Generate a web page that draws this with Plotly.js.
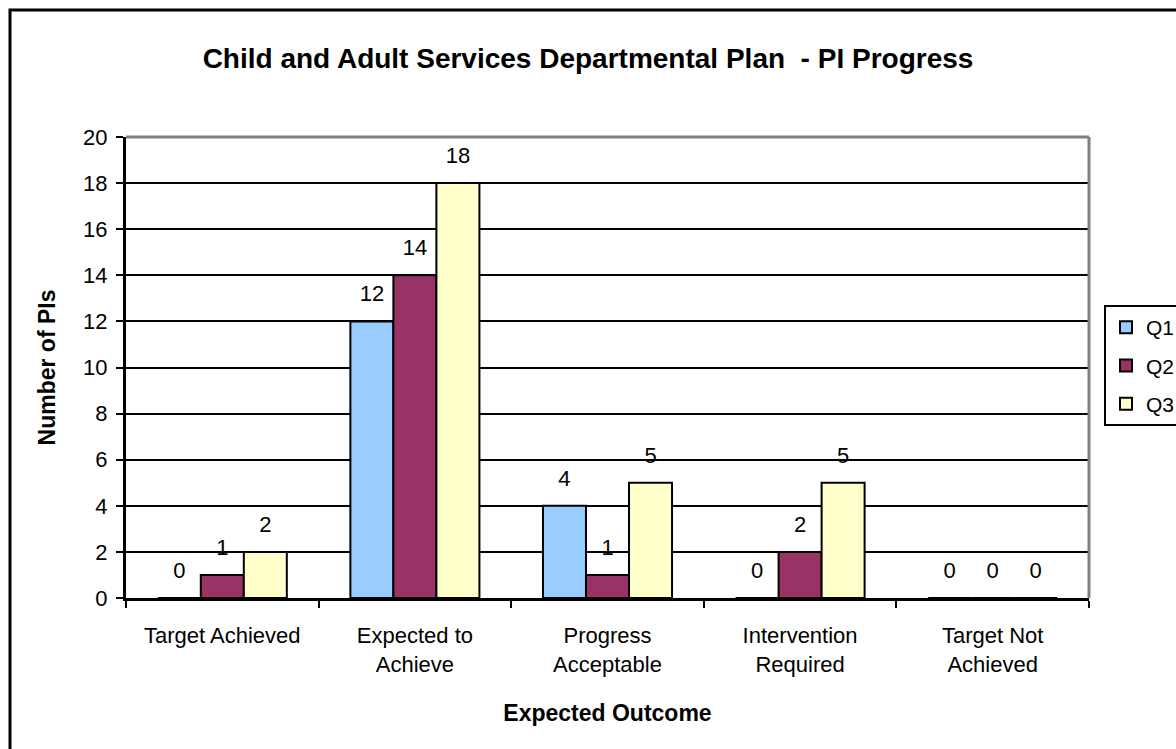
<!DOCTYPE html>
<html>
<head>
<meta charset="utf-8">
<script src="https://cdn.plot.ly/plotly-3.0.1.min.js"></script>
<style>
html,body{margin:0;padding:0;background:#fff;}
#chart{width:1176px;height:749px;}
</style>
</head>
<body>
<div id="chart"></div>
<script>
var categories = ["Target Achieved", "Expected to<br>Achieve", "Progress<br>Acceptable", "Intervention<br>Required", "Target Not<br>Achieved"];
var seriesNames = ["Q1", "Q2", "Q3"];
var q1 = [0, 12, 4, 0, 0];
var q2 = [1, 14, 1, 2, 0];
var q3 = [2, 18, 5, 5, 0];
var yTicks = [0, 2, 4, 6, 8, 10, 12, 14, 16, 18, 20];

var colors = ["#99CCFF", "#993366", "#FFFFCC"];
var FONT = "Liberation Sans, Arial, sans-serif";
var seriesValues = [q1, q2, q3];

var traces = [];
seriesValues.forEach(function (vals, i) {
  traces.push({
    type: "bar",
    name: seriesNames[i],
    legendgroup: seriesNames[i],
    offsetgroup: seriesNames[i],
    x: categories,
    y: vals,
    marker: {color: colors[i], line: {color: "#000", width: 2}}
  });
});
seriesValues.forEach(function (vals, i) {
  traces.push({
    type: "scatter",
    mode: "markers+text",
    showlegend: false,
    legendgroup: seriesNames[i],
    offsetgroup: seriesNames[i],
    x: categories,
    y: vals,
    text: vals.map(String),
    textposition: "top center",
    cliponaxis: false,
    textfont: {family: FONT, size: 22, color: "#000"},
    marker: {size: 22, opacity: 0, color: colors[i]},
    hoverinfo: "skip"
  });
});

var W = 1176, H = 749, L = 126, R = 87, T = 137, B = 151;
var pw = W - L - R, ph = H - T - B;
function px(x) { return (x - L) / pw; }
function py(y) { return (H - B - y) / ph; }

var layout = {
  width: W, height: H,
  margin: {l: L, r: R, t: T, b: B, pad: 0, autoexpand: false},
  paper_bgcolor: "#fff",
  plot_bgcolor: "#fff",
  font: {family: FONT, color: "#000", size: 22},
  barmode: "group",
  scattermode: "group",
  bargap: 0.33,
  bargroupgap: 0,
  title: {
    text: "<b>Child and Adult Services Departmental Plan  - PI Progress</b>",
    font: {family: FONT, size: 28, color: "#000"},
    x: 0.5, xref: "container", xanchor: "center",
    y: 1 - 58 / H, yref: "container", yanchor: "middle"
  },
  xaxis: {
    type: "category",
    tickson: "boundaries",
    ticks: "outside", ticklen: 7, tickwidth: 2, tickcolor: "#000",
    showline: true, linecolor: "#000", linewidth: 3,
    showgrid: false,
    tickfont: {family: FONT, size: 22, color: "#000"},
    ticklabelstandoff: 16,
    title: {text: "<b>Expected Outcome</b>", font: {family: FONT, size: 23, color: "#000"}, standoff: 29}
  },
  yaxis: {
    range: [0, 20],
    tickvals: yTicks,
    ticks: "outside", ticklen: 7, tickwidth: 2, tickcolor: "#000",
    showline: true, linecolor: "#000", linewidth: 3,
    showgrid: true, gridcolor: "#000", gridwidth: 2,
    zeroline: false,
    tickfont: {family: FONT, size: 22, color: "#000"},
    ticklabelstandoff: 4,
    title: {text: "<b>Number of PIs</b>", font: {family: FONT, size: 23, color: "#000"}, standoff: 22}
  },
  legend: {
    xref: "container", yref: "container",
    x: 1104 / W, xanchor: "left",
    y: 1 - 305 / H, yanchor: "top",
    bgcolor: "#fff",
    bordercolor: "#000", borderwidth: 2,
    tracegroupgap: 8,
    itemwidth: 30,
    font: {family: FONT, size: 21, color: "#000"}
  },
  shapes: [
    {type: "line", xref: "paper", yref: "paper", x0: 0, x1: 1, y0: 1, y1: 1, line: {color: "#808080", width: 3}, layer: "above"},
    {type: "line", xref: "paper", yref: "paper", x0: 1, x1: 1, y0: 0, y1: 1, line: {color: "#808080", width: 3}, layer: "above"},
    {type: "path", xref: "paper", yref: "paper",
     path: "M " + px(10) + " " + py(760) + " L " + px(10) + " " + py(10) + " L " + px(1190) + " " + py(10),
     line: {color: "#000", width: 3}}
  ]
};

Plotly.newPlot("chart", traces, layout, {displayModeBar: false, staticPlot: true});
</script>
</body>
</html>
